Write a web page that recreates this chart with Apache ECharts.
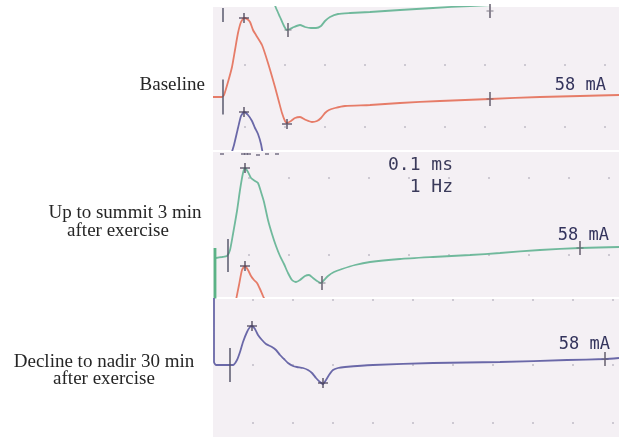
<!DOCTYPE html>
<html>
<head>
<meta charset="utf-8">
<script src="https://cdn.jsdelivr.net/npm/echarts@6/dist/echarts.min.js"></script>
<style>
html,body{margin:0;padding:0;background:#fff;}
#chart{width:619px;height:437px;}
</style>
</head>
<body>
<div id="chart"></div>
<script>
// time in ms (arbitrary scale), amplitude relative to each trace's baseline
var baselineTrace = [[0,0],[0.45,0],[0.55,0.2],[0.75,1.5],[0.95,3.0],[1.1,4.7],[1.25,6.4],[1.4,7.5],[1.55,7.9],[1.7,7.8],[1.85,7.5],[2.0,6.7],[2.15,6.2],[2.45,5.2],[2.75,3.4],[3.1,1.0],[3.3,-0.5],[3.45,-1.6],[3.6,-2.4],[3.7,-2.6],[3.9,-2.4],[4.1,-2.1],[4.35,-2.0],[4.65,-2.3],[4.95,-2.5],[5.2,-2.4],[5.4,-2.1],[5.6,-1.6],[5.8,-1.3],[6.1,-1.1],[6.6,-0.9],[7.85,-0.8],[9.35,-0.6],[11.35,-0.4],[13.85,-0.2],[16.35,0],[18.35,0.1],[20.3,0.2]];
var baselineGreenTail = [[2.9,10.2],[3.15,8.9],[3.35,8.0],[3.55,7.1],[3.7,6.7],[3.85,6.8],[4.05,7.0],[4.35,7.2],[4.6,7.0],[4.9,6.9],[5.15,6.9],[5.4,7.1],[5.6,7.6],[5.85,8.0],[6.25,8.3],[6.85,8.4],[7.85,8.5],[9.35,8.7],[11.0,8.9],[12.85,9.1],[15.35,9.3],[17.85,9.5],[20.3,9.7]];
var baselineBlueTip = [[0.9,-5.8],[1.05,-4.8],[1.25,-3.1],[1.4,-1.9],[1.55,-1.5],[1.75,-1.8],[1.95,-2.4],[2.1,-3.1],[2.25,-3.7],[2.4,-4.7],[2.5,-5.8]];

var summitTrace = [[0.15,-0.1],[0.45,0],[0.7,0.1],[0.85,0.7],[1.0,2.3],[1.2,4.6],[1.35,6.7],[1.5,8.4],[1.6,8.9],[1.75,8.5],[1.9,7.9],[2.1,7.6],[2.25,7.4],[2.4,6.5],[2.55,5.5],[2.75,3.7],[2.95,2.3],[3.15,1.1],[3.35,0.1],[3.55,-0.7],[3.75,-1.6],[3.95,-2.3],[4.15,-2.5],[4.35,-2.3],[4.6,-1.9],[4.8,-1.8],[5.0,-2.1],[5.2,-2.4],[5.4,-2.6],[5.55,-2.3],[5.75,-1.9],[6.05,-1.5],[6.45,-1.2],[7.1,-0.8],[7.85,-0.5],[9.35,-0.2],[11.0,0],[12.85,0.2],[14.35,0.4],[16.35,0.7],[18.35,0.9],[20.3,1.0]];
var summitEdge = [[0.1,-4.3],[0.1,0.9]];
var summitRedTip = [[1.15,-4.3],[1.3,-2.8],[1.45,-1.3],[1.6,-0.9],[1.75,-1.3],[1.9,-1.9],[2.05,-2.3],[2.2,-2.6],[2.35,-3.2],[2.5,-3.9],[2.6,-4.3]];
var summitTopBits = [[0.45,10.3],[1.5,10.3],[1.65,10.3],[1.8,10.3],[2.25,10.2],[2.7,10.3],[3.2,10.3]];

var nadirTrace = [[0.05,7.0],[0.05,0.3],[0.15,0],[1.0,0],[1.2,0.5],[1.35,1.3],[1.5,2.3],[1.7,3.3],[1.85,3.8],[1.95,3.9],[2.1,3.6],[2.25,3.0],[2.45,2.5],[2.65,2.1],[2.95,1.8],[3.15,1.5],[3.35,1.0],[3.55,0.6],[3.75,0.2],[4.0,-0.1],[4.2,-0.2],[4.5,-0.3],[4.75,-0.5],[4.95,-0.8],[5.15,-1.3],[5.35,-1.7],[5.5,-1.9],[5.65,-1.5],[5.8,-1.0],[6.0,-0.5],[6.25,-0.3],[6.6,-0.2],[8.0,0],[11.0,0.2],[14.35,0.3],[17.7,0.5],[19.6,0.6],[20.3,0.7]];

// stimulus marks [x, y, length px], peak/trough crosses, latency ticks
var stimMarks = [[[0.5,0,35],[0.5,8.2,14]], [[0.75,0.15,33]], [[0.85,0,34]]];
var crossMarks = [[[1.55,7.9],[3.7,-2.7],[1.55,-1.5]], [[1.6,8.9],[1.6,-0.9]], [[1.95,3.9],[5.5,-1.8]]];
var endTicks = [[[13.85,-0.2],[13.85,8.6],[3.75,6.7]], [[18.35,0.9],[5.45,-2.6]], [[19.6,0.6]]];

var dotX = [[1.6,3.6,5.6,7.6,9.6,11.6,13.6,15.6,17.6,19.6],[1.8,3.8,5.8,7.8,9.8,11.8,13.8,15.8,17.8,19.8],[2,4,6,8,10,12,14,16,18,20]];
var dotY = [[3.2,-3.0],[7.9,0.2],[6.5,0,-5.8]];

var yRange = [[-5.3,9.0],[-4.0,10.5],[-7.2,6.6]];
var gridTops = [7,152,299];
var gridHeights = [143,145,138];

var myChart = echarts.init(document.getElementById('chart'), null, {renderer:'canvas'});

var grids = [], xAxes = [], yAxes = [], series = [];
for (var i = 0; i < 3; i++) {
    grids.push({left:213, top:gridTops[i], width:406, height:gridHeights[i], show:true, backgroundColor:'#f4f0f4', borderWidth:0});
    xAxes.push({type:'value', gridIndex:i, min:0, max:20.3, show:false});
    yAxes.push({type:'value', gridIndex:i, min:yRange[i][0], max:yRange[i][1], show:false});

    var dots = [];
    for (var a = 0; a < dotX[i].length; a++) {
        for (var b = 0; b < dotY[i].length; b++) {
            dots.push([dotX[i][a], dotY[i][b]]);
        }
    }
    series.push({type:'scatter', xAxisIndex:i, yAxisIndex:i, data:dots, symbol:'circle', symbolSize:2, itemStyle:{color:'#b3b0bb'}, silent:true, z:1});
}

function trace(idx, data, color, width) {
    return {type:'line', xAxisIndex:idx, yAxisIndex:idx, data:data, showSymbol:false, smooth:0.2, clip:true,
        lineStyle:{color:color, width:width || 1.8}, silent:true, z:3};
}

var RED = '#e67c68', GREEN = '#70b99c', PURPLE = '#6a68a8';
series.push(trace(0, baselineTrace, RED));
series.push(trace(0, baselineGreenTail, GREEN));
series.push(trace(0, baselineBlueTip, PURPLE));
series.push(trace(1, summitTrace, GREEN));
series.push(trace(1, summitEdge, '#5bb386', 2.8));
series.push(trace(1, summitRedTip, RED));
series.push(trace(2, nadirTrace, PURPLE));

// little clipped remnants under the first panel
series.push({type:'scatter', xAxisIndex:1, yAxisIndex:1, silent:true, z:4, clip:false,
    data:summitTopBits, symbol:'rect', symbolSize:[4,1.5], itemStyle:{color:'#55506a'}});

for (var i = 0; i < 3; i++) {
    series.push({type:'scatter', xAxisIndex:i, yAxisIndex:i, silent:true, z:5, clip:true,
        data: stimMarks[i].map(function (m) { return {value:[m[0], m[1]], symbolSize:[1.8, m[2]]}; }),
        symbol:'rect', itemStyle:{color:'#525268'}});
    series.push({type:'scatter', xAxisIndex:i, yAxisIndex:i, silent:true, z:5, clip:true,
        data: crossMarks[i], symbol:'path://M4.2,0h1.6v10h-1.6zM0,4.2h10v1.6h-10z', symbolSize:10,
        itemStyle:{color:'#463f55'}});
    series.push({type:'scatter', xAxisIndex:i, yAxisIndex:i, silent:true, z:5, clip:true,
        data: endTicks[i], symbol:'path://M4.2,0h1.6v14h-1.6zM2,6.5h6v1h-6z', symbolSize:[7,14],
        itemStyle:{color:'#655f6e'}});
}

function label(text, x, y, align, size, family, color, weight) {
    return {type:'text', x:x, y:y, z:10, style:{text:text, x:0, y:0, textAlign:align, textVerticalAlign:'middle',
        font: (weight || 'normal') + ' ' + size + 'px ' + family, fill:color}};
}
var SERIF = '"Liberation Serif", "DejaVu Serif", serif';
var MONO = '"DejaVu Sans Mono", "Liberation Mono", monospace';

var option = {
    animation:false,
    backgroundColor:'#ffffff',
    grid:grids,
    xAxis:xAxes,
    yAxis:yAxes,
    series:series,
    graphic:[
        label('Baseline', 205, 85, 'right', 19, SERIF, '#262626'),
        label('Up to summit 3 min', 125, 213, 'center', 19, SERIF, '#262626'),
        label('after exercise', 118, 231, 'center', 19, SERIF, '#262626'),
        label('Decline to nadir 30 min', 104, 362, 'center', 19, SERIF, '#262626'),
        label('after exercise', 104, 379, 'center', 19, SERIF, '#262626'),
        label('0.1 ms', 453, 165, 'right', 18, MONO, '#3a3a5a'),
        label('1 Hz', 453, 187, 'right', 18, MONO, '#3a3a5a'),
        label('58 mA', 606, 86, 'right', 17, MONO, '#33335c'),
        label('58 mA', 609, 236, 'right', 17, MONO, '#33335c'),
        label('58 mA', 610, 345, 'right', 17, MONO, '#33335c')
    ]
};
myChart.setOption(option);
</script>
</body>
</html>
